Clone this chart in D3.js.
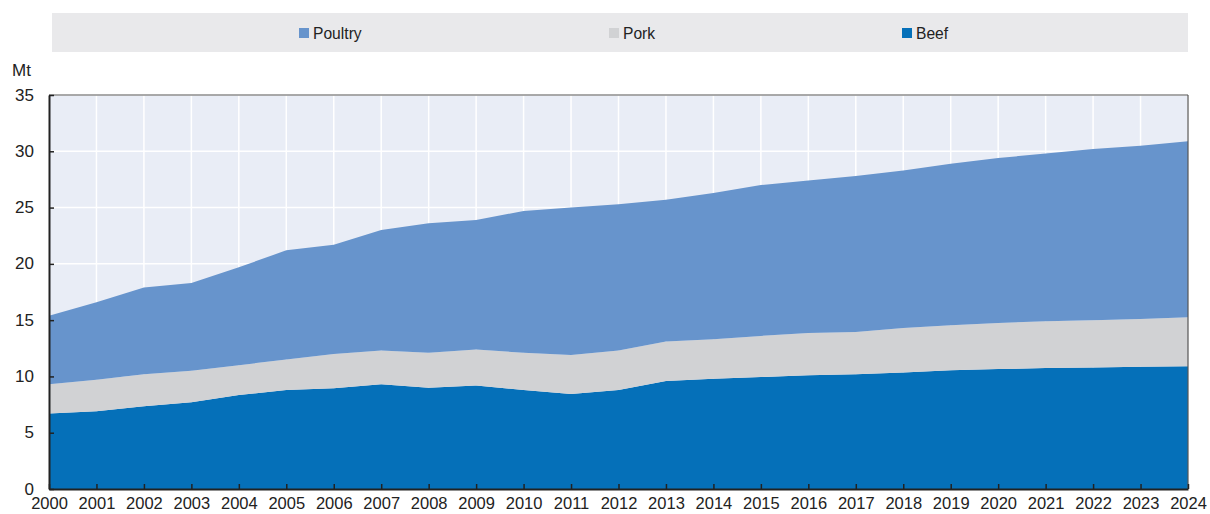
<!DOCTYPE html>
<html><head><meta charset="utf-8">
<script src="https://cdn.jsdelivr.net/npm/d3@7"></script>
<style>
body{margin:0;background:#fff;}
text{font-family:"Liberation Sans Narrow","Arial Narrow","Liberation Sans",sans-serif;fill:#222;}
</style></head><body>
<svg id="c" width="1210" height="514"></svg>
<script>
const years=[2000,2001,2002,2003,2004,2005,2006,2007,2008,2009,2010,2011,2012,2013,2014,2015,2016,2017,2018,2019,2020,2021,2022,2023,2024];
const beef=[6.7,6.9,7.35,7.7,8.35,8.8,8.95,9.3,9.0,9.2,8.8,8.45,8.8,9.6,9.8,9.95,10.1,10.2,10.35,10.55,10.65,10.75,10.8,10.85,10.9];
const pork=[2.6,2.8,2.85,2.8,2.65,2.7,3.05,3.0,3.1,3.2,3.3,3.45,3.5,3.5,3.5,3.65,3.75,3.75,3.95,4.0,4.1,4.15,4.2,4.25,4.35];
const poultry=[6.1,6.9,7.7,7.8,8.7,9.7,9.7,10.7,11.5,11.5,12.6,13.1,13.0,12.6,13.0,13.4,13.55,13.85,14.0,14.35,14.65,14.9,15.2,15.4,15.65];
const yTicks=[0,5,10,15,20,25,30,35];
const seriesNames=["Poultry","Pork","Beef"];
const colors={Beef:"#0570b9",Pork:"#d1d2d4",Poultry:"#6794cc"};

const svg=d3.select("#c");
const L=49,R=1188,T=95,B=489;
const x=d3.scaleLinear().domain([2000,2024]).range([L,R]);
const y=d3.scaleLinear().domain([0,35]).range([B,T]);

// legend
svg.append("rect").attr("x",52).attr("y",13).attr("width",1136).attr("height",39).attr("fill","#e9e9eb");
const legX={Poultry:299,Pork:609,Beef:902};
seriesNames.forEach(n=>{
  svg.append("rect").attr("x",legX[n]).attr("y",28).attr("width",10).attr("height",10).attr("fill",colors[n]);
  svg.append("text").attr("x",legX[n]+14).attr("y",39).attr("font-size",17).attr("transform",`translate(${(legX[n]+14)*0.08},0) scale(0.92,1)`).text(n);
});

// plot bg
svg.append("rect").attr("x",L).attr("y",T).attr("width",R-L).attr("height",B-T).attr("fill","#e9edf6");
// grid
svg.append("g").selectAll("line").data(years).join("line")
  .attr("x1",d=>x(d)).attr("x2",d=>x(d)).attr("y1",T).attr("y2",B).attr("stroke","#fff").attr("stroke-width",1.5);
svg.append("g").selectAll("line").data(yTicks).join("line")
  .attr("x1",L).attr("x2",R).attr("y1",d=>y(d)).attr("y2",d=>y(d)).attr("stroke","#fff").attr("stroke-width",1.5);

const data=years.map((yr,i)=>({year:yr,Beef:beef[i],Pork:pork[i],Poultry:poultry[i]}));
const stack=d3.stack().keys(["Beef","Pork","Poultry"]);
const layers=stack(data);
const area=d3.area().x(d=>x(d.data.year)).y0(d=>y(d[0])).y1(d=>y(d[1]));
svg.append("g").selectAll("path").data(layers).join("path")
  .attr("d",area).attr("fill",d=>colors[d.key]);

// frame
svg.append("line").attr("x1",L).attr("x2",R).attr("y1",T).attr("y2",T).attr("stroke","#555").attr("stroke-width",1.2);
svg.append("line").attr("x1",R).attr("x2",R).attr("y1",T).attr("y2",B).attr("stroke","#555").attr("stroke-width",1.2);

// axes
const xAxis=d3.axisBottom(x).tickValues(years).tickFormat(d3.format("d")).tickSizeInner(-5).tickSizeOuter(0).tickPadding(8);
const gx=svg.append("g").attr("transform",`translate(0,${B})`).call(xAxis);
gx.select(".domain").attr("stroke","#222").attr("stroke-width",2);
gx.selectAll(".tick line").attr("stroke","#222").attr("stroke-width",1.5);
gx.selectAll("text").attr("font-size",16.5).attr("fill","#222").attr("dy","0.71em");

const yAxis=d3.axisLeft(y).tickValues(yTicks).tickSizeInner(-5).tickSizeOuter(0).tickPadding(15);
const gy=svg.append("g").attr("transform",`translate(${L},0)`).call(yAxis);
gy.select(".domain").attr("stroke","#222").attr("stroke-width",2);
gy.selectAll(".tick line").attr("stroke","#222").attr("stroke-width",1.5);
gy.selectAll("text").attr("font-size",17).attr("fill","#222").attr("dy","0.3em");

svg.append("text").attr("x",12).attr("y",76).attr("font-size",17).text("Mt");
</script>
</body></html>
